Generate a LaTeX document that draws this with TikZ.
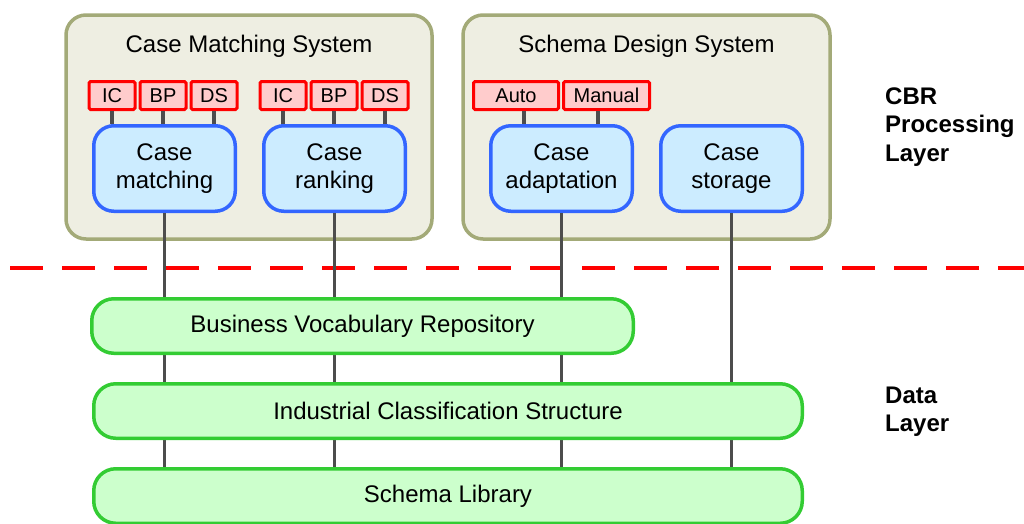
\documentclass[tikz,border=0pt]{standalone}
\usepackage{fontspec}
\setmainfont{Liberation Sans}
\usetikzlibrary{positioning}
\definecolor{sysfill}{RGB}{238,238,226}
\definecolor{sysline}{RGB}{163,170,120}
\definecolor{tagfill}{RGB}{255,204,204}
\definecolor{tagline}{RGB}{255,0,0}
\definecolor{modfill}{RGB}{204,236,255}
\definecolor{modline}{RGB}{51,102,255}
\definecolor{storefill}{RGB}{204,255,204}
\definecolor{storeline}{RGB}{51,204,51}
\definecolor{wirecol}{RGB}{77,77,77}
\tikzset {
  % outer system frame
  system/.style = {
    draw = sysline,
    fill = sysfill,
    line width = 3.5pt,
    rounded corners = 20pt,
    minimum width = 366pt,
    minimum height = 224pt
  },
  title/.style = {
    anchor = base,
    font = \fontsize{24}{28}\selectfont
  },
  % small option box
  tag/.style = {
    draw = tagline,
    fill = tagfill,
    line width = 3pt,
    rounded corners = 1.5pt,
    inner sep = 0pt,
    minimum width = 46pt,
    minimum height = 28pt,
    font = \fontsize{20}{24}\selectfont
  },
  % processing module
  module/.style = {
    draw = modline,
    fill = modfill,
    line width = 3.5pt,
    rounded corners = 20pt,
    minimum width = 141.5pt,
    minimum height = 85.5pt,
    align = center,
    font = \fontsize{24}{28.5}\selectfont
  },
  % data store bar
  store/.style = {
    draw = storeline,
    fill = storefill,
    line width = 3.5pt,
    rounded corners = 22pt,
    minimum height = 54.5pt,
    font = \fontsize{24}{28}\selectfont
  },
  wire/.style = {
    draw = wirecol,
    line width = 3.5pt
  },
  divider/.style = {
    draw = red,
    line width = 4pt,
    dash pattern = on 33pt off 19pt
  },
  layer label/.style = {
    anchor = west,
    inner sep = 0pt,
    align = left,
    font = \fontsize{24}{28.5}\selectfont\bfseries
  }
}

\begin{document}
\begin{tikzpicture}[x=1pt, y=-1pt]
    \useasboundingbox (0,0) rectangle (1024,523);

    \node[system] (matchsys) at (249,127) {};
    \node[system, minimum width=367pt] (designsys) at (646.5,127) {};
    \node[title] (matchsys-title) at (249,52) {Case Matching System};
    \node[title] (designsys-title) at (646.5,52) {Schema Design System};

    \node[tag] (ic1) at (112,95.5) {IC};
    \node[tag] (bp1) [right=2pt of ic1] {BP};
    \node[tag] (ds1) [right=2pt of bp1] {DS};
    \node[tag] (ic2) at (283,95.5) {IC};
    \node[tag] (bp2) [right=2pt of ic2] {BP};
    \node[tag] (ds2) [right=2pt of bp2] {DS};
    \node[tag, minimum width=85pt] (auto) at (516,95.5) {Auto};
    \node[tag, minimum width=86pt] (manual) [right=2pt of auto] {Manual};

    \node[module] (match) at (164.5,168.5) {Case\\matching};
    \node[module] (rank) at (334.5,168.5) {Case\\ranking};
    \node[module] (adapt) at (561.5,168.5) {Case\\adaptation};
    \node[module] (storage) at (731.5,168.5) {Case\\storage};

    \coordinate (sep-left) at (10,268);
    \coordinate (sep-right) at (1024,268);
    \draw[divider] (sep-left) -- (sep-right);

    \coordinate (lib-top) at (0,467);

    % option boxes on top of the modules
    \draw[wire] (ic1.south) -- (ic1.south |- match.north);
    \draw[wire] (bp1.south) -- (bp1.south |- match.north);
    \draw[wire] (ds1.south) -- (ds1.south |- match.north);
    \draw[wire] (ic2.south) -- (ic2.south |- rank.north);
    \draw[wire] (bp2.south) -- (bp2.south |- rank.north);
    \draw[wire] (ds2.south) -- (ds2.south |- rank.north);
    \draw[wire] ([xshift=8pt]auto.south) -- ([xshift=8pt]auto.south |- adapt.north);
    \draw[wire] ([xshift=-8.5pt]manual.south) -- ([xshift=-8.5pt]manual.south |- adapt.north);

    % modules down to the data layer
    \draw[wire] (match.south) -- (match.south |- lib-top);
    \draw[wire] (rank.south) -- (rank.south |- lib-top);
    \draw[wire] (adapt.south) -- (adapt.south |- lib-top);
    \draw[wire] (storage.south) -- (storage.south |- lib-top);

    \node[store, minimum width=541.5pt] (vocab) at (362.5,326) {Business Vocabulary Repository};
    \node[store, minimum width=708.5pt] (classes) at (448,411) {Industrial Classification Structure};
    \node[store, minimum width=708.5pt] (lib) at (448,496) {Schema Library};

    \node[layer label] (cbr-layer) at (885,127) {CBR\\Processing\\Layer};
    \node[layer label] (data-layer) at (885,411.5) {Data\\Layer};
\end{tikzpicture}
\end{document}
